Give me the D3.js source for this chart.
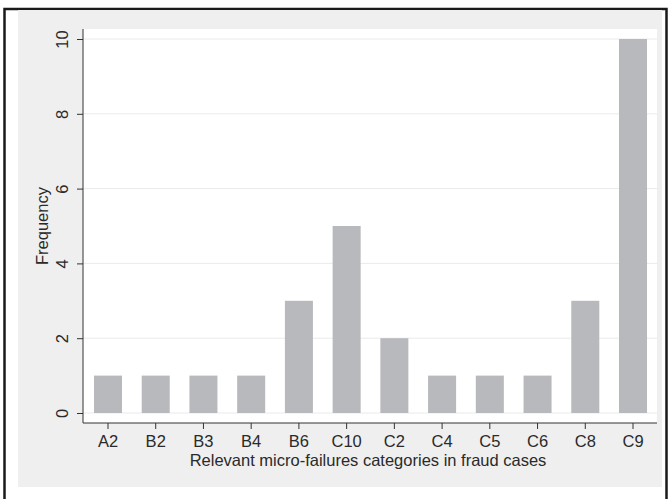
<!DOCTYPE html>
<html>
<head>
<meta charset="utf-8">
<script src="https://cdn.jsdelivr.net/npm/d3@7"></script>
<style>
  html, body { margin: 0; padding: 0; background: #fff; }
  svg { display: block; font-family: "Liberation Sans", Arial, sans-serif; }
</style>
</head>
<body>
<svg id="chart" width="672" height="499"></svg>
<script>
// data
const categories = ['A2', 'B2', 'B3', 'B4', 'B6', 'C10', 'C2', 'C4', 'C5', 'C6', 'C8', 'C9'];
const frequency = [1, 1, 1, 1, 3, 5, 2, 1, 1, 1, 3, 10];
const yTicks = [0, 2, 4, 6, 8, 10];

const data = categories.map((c, i) => ({cat: c, freq: frequency[i]}));

const PLOT = {left: 83, right: 657, top: 29, bottom: 423};
const FONT = 16.5;
const INK = '#2a2a2a';

const svg = d3.select('#chart');

// outer frame
svg.append('path')
    .attr('d', 'M4.5,499 V9 H666.5 V499')
    .attr('fill', 'none')
    .attr('stroke', '#1a1a1a')
    .attr('stroke-width', 2.5);

// graph region (light grey)
svg.append('rect')
    .attr('x', 18).attr('y', 10)
    .attr('width', 644).attr('height', 477)
    .attr('fill', '#efefef');

// plot region
svg.append('rect')
    .attr('x', PLOT.left).attr('y', PLOT.top)
    .attr('width', PLOT.right - PLOT.left).attr('height', PLOT.bottom - PLOT.top)
    .attr('fill', '#fff');

const x = d3.scaleBand()
    .domain(categories)
    .range([83, 658])
    .paddingInner(0.413)
    .paddingOuter(0.23);

const y = d3.scaleLinear().domain([0, 10]).range([413, 39]);

// grid
svg.append('g')
    .selectAll('line')
    .data(yTicks)
    .enter()
    .append('line')
    .attr('x1', PLOT.left).attr('x2', PLOT.right)
    .attr('y1', d => y(d)).attr('y2', d => y(d))
    .attr('stroke', '#eaeaea')
    .attr('stroke-width', 1);

// bars
svg.selectAll('.bar')
    .data(data)
    .enter()
    .append('rect')
    .classed('bar', true)
    .attr('x', d => x(d.cat))
    .attr('width', x.bandwidth())
    .attr('y', d => y(d.freq))
    .attr('height', d => y(0) - y(d.freq))
    .attr('fill', '#b8b9bd');

// y axis
const yAxis = svg.append('g')
    .attr('transform', `translate(${PLOT.left},0)`)
    .call(d3.axisLeft(y).tickValues(yTicks).tickSize(6).tickPadding(0).tickSizeOuter(0));
yAxis.select('.domain').attr('d', `M0,${PLOT.top}V${PLOT.bottom}`).attr('stroke', '#333');
yAxis.selectAll('.tick line').attr('stroke', '#333');
yAxis.selectAll('.tick text')
    .attr('x', 0).attr('y', 0).attr('dy', null)
    .attr('transform', 'translate(-15,0) rotate(-90)')
    .attr('text-anchor', 'middle')
    .attr('fill', INK)
    .attr('font-size', FONT);

// x axis
const xAxis = svg.append('g')
    .attr('transform', `translate(0,${PLOT.bottom})`)
    .call(d3.axisBottom(x).tickSize(6).tickSizeOuter(0));
xAxis.select('.domain').attr('d', `M${PLOT.left},0H${PLOT.right}`).attr('stroke', '#333');
xAxis.selectAll('.tick line').attr('stroke', '#333');
xAxis.selectAll('.tick text')
    .attr('y', 24).attr('dy', null)
    .attr('fill', INK)
    .attr('font-size', FONT);

// axis titles
svg.append('text')
    .attr('transform', `translate(48,${(y(0) + y(10)) / 2}) rotate(-90)`)
    .attr('text-anchor', 'middle')
    .attr('font-size', FONT)
    .attr('fill', INK)
    .text('Frequency');

svg.append('text')
    .attr('x', 368)
    .attr('y', 466)
    .attr('text-anchor', 'middle')
    .attr('font-size', FONT)
    .attr('fill', INK)
    .text('Relevant micro-failures categories in fraud cases');
</script>
</body>
</html>
